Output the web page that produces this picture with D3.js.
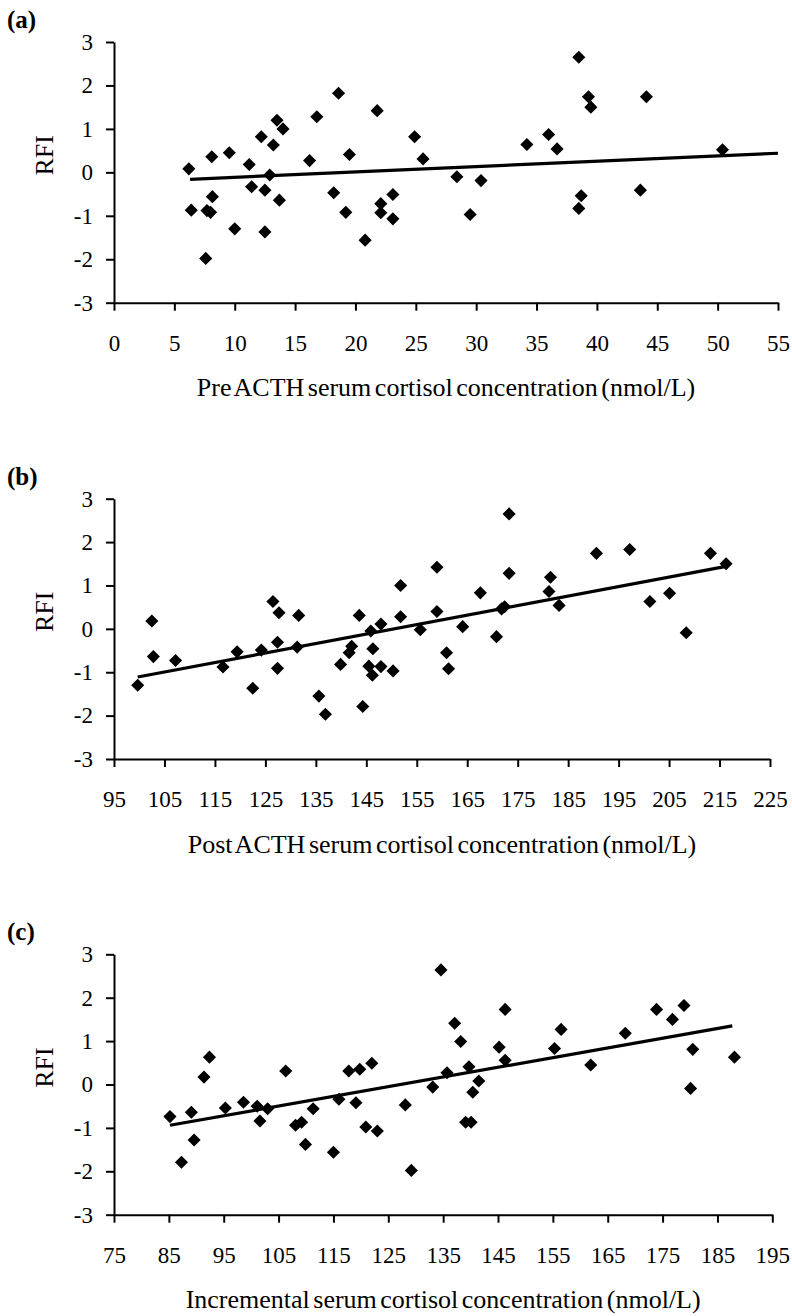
<!DOCTYPE html>
<html>
<head>
<meta charset="utf-8">
<script src="https://cdn.jsdelivr.net/npm/d3@7"></script>
<style>
  body { margin: 0; background: #fff; }
  svg text { font-family: "Liberation Serif", "Times New Roman", serif; fill: #000; }
</style>
</head>
<body>
<div id="chart"></div>
<script>
// RFI values, [cortisol, RFI]
const preACTH = [
  [6.2, 0.08], [6.4, -0.87], [8.1, 0.36], [8.15, -0.56], [7.7, -0.88], [8.0, -0.92],
  [7.6, -1.98], [9.55, 0.45], [10.0, -1.3], [11.2, 0.18], [11.4, -0.33], [12.2, 0.82],
  [12.5, -0.41], [12.5, -1.37], [12.9, -0.06], [13.2, 0.63], [13.5, 1.2], [14.0, 1.0],
  [13.7, -0.64], [16.2, 0.27], [16.8, 1.28], [18.2, -0.47], [18.6, 1.82], [19.2, -0.92],
  [19.5, 0.41], [20.8, -1.56], [21.8, 1.42], [22.1, -0.72], [22.1, -0.93], [23.1, -0.51],
  [23.1, -1.07], [24.9, 0.82], [25.6, 0.31], [28.4, -0.1], [30.4, -0.19], [29.5, -0.97],
  [34.2, 0.64], [36.0, 0.87], [36.7, 0.54], [38.5, 2.65], [39.3, 1.74], [39.5, 1.5],
  [38.7, -0.54], [38.5, -0.83], [44.1, 1.74], [43.6, -0.41], [50.4, 0.52]
];
const postACTH = [
  [99.7, -1.30], [102.5, 0.18], [102.8, -0.64], [107.2, -0.73], [116.6, -0.88], [119.4, -0.53],
  [122.5, -1.37], [124.2, -0.49], [126.5, 0.63], [127.7, 0.37], [127.4, -0.31], [127.4, -0.91],
  [131.6, 0.31], [131.3, -0.42], [135.6, -1.55], [136.9, -1.97], [139.9, -0.82], [141.6, -0.55],
  [142.1, -0.40], [143.6, 0.31], [144.3, -1.79], [145.5, -0.86], [146.2, -1.07], [146.3, -0.46],
  [145.9, -0.05], [147.9, 0.11], [147.9, -0.87], [150.3, -0.97], [151.8, 1.0], [151.8, 0.28],
  [155.7, -0.02], [159.0, 1.42], [159.0, 0.40], [160.9, -0.55], [161.3, -0.92], [164.1, 0.05],
  [167.6, 0.83], [170.8, -0.18], [171.8, 0.46], [172.4, 0.51], [173.3, 2.65], [173.3, 1.28],
  [181.5, 1.19], [181.2, 0.86], [183.2, 0.54], [190.6, 1.74], [197.2, 1.83], [201.2, 0.63],
  [205.1, 0.82], [208.4, -0.09], [213.2, 1.74], [216.3, 1.50]
];
const incremental = [
  [85.2, -0.74], [87.3, -1.79], [89.1, -0.64], [89.6, -1.28], [91.4, 0.17], [92.4, 0.63],
  [95.3, -0.54], [98.6, -0.41], [101.1, -0.50], [101.6, -0.84], [103.0, -0.56], [106.3, 0.31],
  [108.1, -0.94], [109.2, -0.87], [109.9, -1.38], [111.3, -0.56], [115.0, -1.56], [116.0, -0.34],
  [117.8, 0.31], [119.1, -0.42], [119.8, 0.35], [120.9, -0.98], [122.0, 0.49], [123.0, -1.07],
  [128.1, -0.47], [129.2, -1.98], [133.1, -0.06], [134.6, 2.64], [135.7, 0.27], [137.1, 1.41],
  [138.2, 0.99], [139.7, 0.41], [141.5, 0.08], [140.4, -0.18], [139.1, -0.87], [140.1, -0.87],
  [145.2, 0.86], [146.3, 1.73], [146.3, 0.56], [155.3, 0.83], [156.5, 1.27], [161.9, 0.45],
  [168.2, 1.18], [173.9, 1.73], [176.8, 1.50], [178.9, 1.82], [180.5, 0.81], [180.1, -0.09],
  [188.1, 0.63]
];

// fitted lines, end points
const preTrend = [[6.3, -0.16], [55, 0.44]];
const postTrend = [[99.7, -1.11], [216.3, 1.44]];
const incTrend = [[85.2, -0.94], [187.7, 1.35]];

// tick values
const preTicks = d3.range(0, 56, 5);
const postTicks = d3.range(95, 226, 10);
const incTicks = d3.range(75, 196, 10);
const rfiTicks = [-3, -2, -1, 0, 1, 2, 3];

const panels = [
  { tag: "(a)", data: preACTH, trend: preTrend, ticks: preTicks,
    title: "Pre ACTH serum cortisol concentration (nmol/L)",
    x0: 114, x1: 778, y0: 42, y1: 302.7 },
  { tag: "(b)", data: postACTH, trend: postTrend, ticks: postTicks,
    title: "Post ACTH serum cortisol concentration (nmol/L)",
    x0: 114, x1: 770, y0: 498.7, y1: 759 },
  { tag: "(c)", data: incremental, trend: incTrend, ticks: incTicks,
    title: "Incremental serum cortisol concentration (nmol/L)",
    x0: 114, x1: 772.3, y0: 954.3, y1: 1214.7 }
];

const width = 792;
const height = 1316;

const svg = d3.select("#chart")
  .append("svg")
  .attr("width", width)
  .attr("height", height);

const diamond = d3.symbol().type(d3.symbolSquare).size(86);

panels.forEach(p => {
  const x = d3.scaleLinear()
    .domain(d3.extent(p.ticks))
    .range([p.x0, p.x1]);
  const y = d3.scaleLinear()
    .domain([-3, 3])
    .range([p.y1, p.y0]);

  const g = svg.append("g");

  // x axis
  const xAxis = g.append("g")
    .attr("transform", `translate(0,${p.y1})`)
    .call(d3.axisBottom(x).tickValues(p.ticks).tickFormat(d => String(d))
      .tickSize(8).tickSizeOuter(0).tickPadding(24));

  // y axis
  const yAxis = g.append("g")
    .attr("transform", `translate(${p.x0},0)`)
    .call(d3.axisLeft(y).tickValues(rfiTicks).tickFormat(d => String(d))
      .tickSize(8).tickSizeOuter(0).tickPadding(13));

  [xAxis, yAxis].forEach(a => {
    a.select(".domain").attr("stroke", "#000").attr("stroke-width", 2);
    a.selectAll(".tick line").attr("stroke", "#000").attr("stroke-width", 2);
    a.selectAll(".tick text").style("font-size", "23px");
  });

  // trend line
  g.append("path")
    .datum(p.trend)
    .attr("fill", "none")
    .attr("stroke", "#000")
    .attr("stroke-width", 3.2)
    .attr("d", d3.line().x(d => x(d[0])).y(d => y(d[1])));

  // points
  g.selectAll(".pt")
    .data(p.data)
    .join("path")
    .attr("class", "pt")
    .attr("d", diamond)
    .attr("fill", "#000")
    .attr("transform", d => `translate(${x(d[0])},${y(d[1])}) rotate(45)`);

  // labels
  g.append("text")
    .attr("x", (p.x0 + p.x1) / 2)
    .attr("y", p.y1 + 93.6)
    .attr("text-anchor", "middle")
    .style("font-size", "26px")
    .style("word-spacing", "-3px")
    .text(p.title);

  g.append("text")
    .attr("transform", `translate(53,${(p.y0 + p.y1) / 2 - 17}) rotate(-90)`)
    .attr("text-anchor", "middle")
    .style("font-size", "26px")
    .text("RFI");

  g.append("text")
    .attr("x", 7)
    .attr("y", p.y0 - 14)
    .style("font-size", "25px")
    .style("font-weight", "bold")
    .text(p.tag);
});
</script>
</body>
</html>
